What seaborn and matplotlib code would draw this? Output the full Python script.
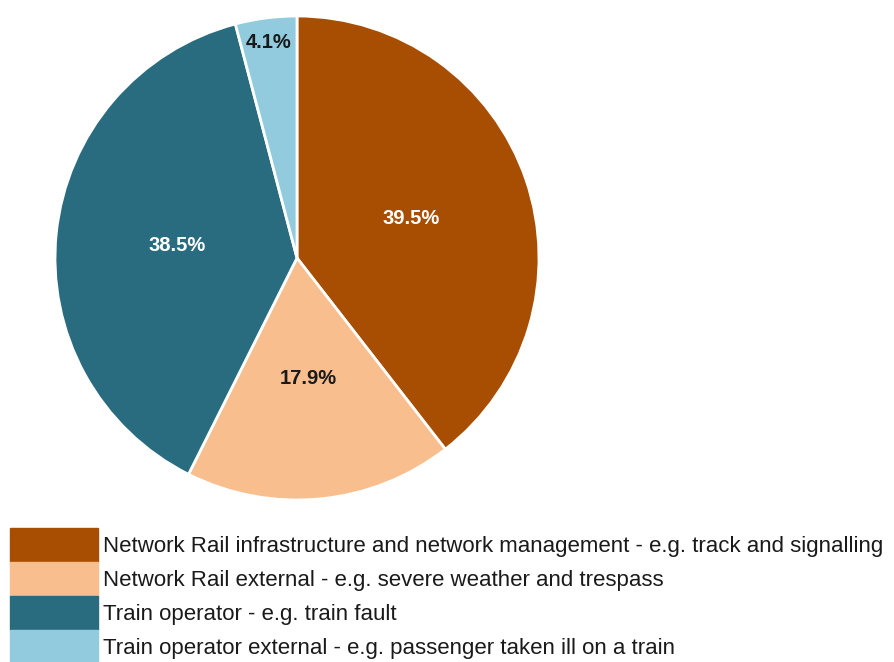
import seaborn as sns
import matplotlib.pyplot as plt
from matplotlib.patches import Patch

# Delay causes - share of delay minutes
categories = [
    "Network Rail infrastructure and network management - e.g. track and signalling",
    "Network Rail external - e.g. severe weather and trespass",
    "Train operator - e.g. train fault",
    "Train operator external - e.g. passenger taken ill on a train",
]
shares = [39.5, 17.9, 38.5, 4.1]
colours = ["#A84E03", "#F9BE8E", "#296C80", "#92CBDD"]
label_colours = ["white", "#1a1a1a", "white", "#1a1a1a"]

sns.set_style("white")
plt.rcParams["font.family"] = ["Liberation Sans", "DejaVu Sans"]

palette = sns.color_palette(colours)

fig = plt.figure(figsize=(8.95, 6.62), dpi=100)
ax = fig.add_axes([55 / 895, 162 / 662, 484 / 895, 484 / 662])

wedges, texts, autotexts = ax.pie(
    shares,
    colors=palette,
    startangle=90,
    counterclock=False,
    autopct="%.1f%%",
    pctdistance=0.5,
    wedgeprops=dict(edgecolor="white", linewidth=2),
    textprops=dict(fontsize=14.5, fontweight="bold"),
)
for t, c in zip(autotexts, label_colours):
    t.set_color(c)

# the small slice label sits near the rim
x, y = autotexts[3].get_position()
autotexts[3].set_position((x * 0.9 / 0.5, y * 0.9 / 0.5))

ax.set_aspect("equal")
ax.set_xlim(-1, 1)
ax.set_ylim(-1, 1)
ax.axis("off")

handles = [Patch(facecolor=c, edgecolor=c) for c in palette]
fig.legend(
    handles, categories,
    loc="upper left",
    bbox_to_anchor=(10 / 895, 1 - 528 / 662),
    frameon=False,
    fontsize=16,
    handlelength=3.96,
    handleheight=1.98,
    handletextpad=0.22,
    labelspacing=0,
    borderpad=0,
    borderaxespad=0,
    labelcolor="#1a1a1a",
)

fig.savefig("out.png", dpi=100)
